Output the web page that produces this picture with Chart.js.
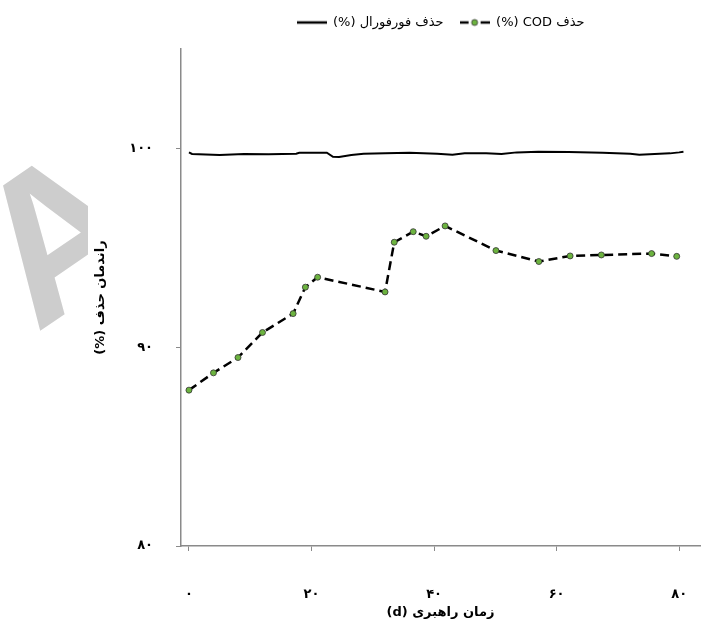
<!DOCTYPE html>
<html>
<head>
<meta charset="utf-8">
<script src="https://cdn.jsdelivr.net/npm/chart.js@4"></script>
<style>
  html, body { margin: 0; padding: 0; background: #fff; }
  #wrap { width: 707px; height: 624px; }
</style>
</head>
<body>
<div id="wrap"><canvas id="chart" width="707" height="624"></canvas></div>
<script>
// Data
const furfuralDays = [0, 0.5, 5, 9, 13, 17.5, 18, 22.5, 23.5, 24.5, 26.5, 28.5, 32, 36, 40.5, 43, 45, 48.5, 51, 53.5, 57, 62, 67.5, 72, 73.5, 78.5, 80, 80.7];
const furfuralRemoval = [99.8, 99.72, 99.67, 99.72, 99.7, 99.73, 99.78, 99.78, 99.58, 99.57, 99.67, 99.73, 99.75, 99.78, 99.73, 99.68, 99.75, 99.75, 99.72, 99.8, 99.83, 99.82, 99.78, 99.73, 99.68, 99.75, 99.8, 99.83];

const codDays = [0, 4, 8, 12, 17, 19, 21, 32, 33.5, 36.6, 38.7, 41.8, 50.1, 57.1, 62.2, 67.3, 75.5, 79.6];
const codRemoval = [87.84, 88.71, 89.48, 90.74, 91.69, 93.02, 93.52, 92.78, 95.28, 95.81, 95.58, 96.1, 94.86, 94.31, 94.59, 94.64, 94.71, 94.57];

const seriesLabels = ["حذف فورفورال (%)", "حذف COD (%)"];
const xTickValues = [0, 20, 40, 60, 80];
const xTickLabels = ["۰", "۲۰", "۴۰", "۶۰", "۸۰"];
const yTickValues = [80, 90, 100];
const yTickLabels = ["۸۰", "۹۰", "۱۰۰"];
const xTitle = "زمان راهبری (d)";
const yTitle = "راندمان حذف (%)";

const axisGray = "#8a8a8a";
const codGreen = "#6cb33f";
// wrap in right-to-left embedding so "(%)" sits on the left like the original
const rtlText = (s) => "\u202B" + s + "\u202C";

// legend icons
function legendIcon(dashed) {
  const c = document.createElement("canvas");
  c.width = 30;
  c.height = 10;
  const g = c.getContext("2d");
  g.strokeStyle = "#000";
  g.lineWidth = 2.5;
  g.beginPath();
  if (dashed) {
    g.moveTo(0, 5); g.lineTo(9, 5);
    g.moveTo(21, 5); g.lineTo(30, 5);
  } else {
    g.moveTo(0, 5); g.lineTo(30, 5);
  }
  g.stroke();
  if (dashed) {
    g.beginPath();
    g.arc(15, 5, 3, 0, Math.PI * 2);
    g.fillStyle = codGreen;
    g.fill();
    g.lineWidth = 0.8;
    g.strokeStyle = "#333";
    g.stroke();
  }
  return c;
}
const iconSolid = legendIcon(false);
const iconDashed = legendIcon(true);

// faint watermark behind the chart
const watermark = {
  id: "watermark",
  beforeDraw(chart) {
    const ctx = chart.ctx;
    ctx.save();
    ctx.beginPath();
    ctx.rect(0, 0, 88, 624);
    ctx.clip();
    ctx.translate(97, 292);
    ctx.rotate(-0.6);
    ctx.fillStyle = "#cdcdcd";
    ctx.font = "bold 205px 'Liberation Sans'";
    ctx.textAlign = "center";
    ctx.textBaseline = "alphabetic";
    ctx.fillText("A", 0, 0);
    ctx.restore();
  }
};

// a bit more room under the legend
const legendGap = {
  id: "legendGap",
  afterInit(chart) {
    const lg = chart.legend;
    const fit = lg.fit;
    lg.fit = function () {
      fit.call(this);
      this.height += 10;
    };
  }
};

const tickFont = { family: "'DejaVu Sans'", size: 13, weight: "bold" };

const ctx = document.getElementById("chart").getContext("2d");
new Chart(ctx, {
  type: "line",
  data: {
    datasets: [
      {
        label: seriesLabels[0],
        data: furfuralDays.map((d, i) => ({ x: d, y: furfuralRemoval[i] })),
        borderColor: "#000",
        backgroundColor: "#000",
        borderWidth: 2,
        pointRadius: 0,
        tension: 0,
      },
      {
        label: seriesLabels[1],
        data: codDays.map((d, i) => ({ x: d, y: codRemoval[i] })),
        borderColor: "#000",
        borderWidth: 2.5,
        borderDash: [9, 5],
        pointRadius: 3,
        pointBackgroundColor: codGreen,
        pointBorderColor: "#333",
        pointBorderWidth: 0.8,
        tension: 0,
      },
    ],
  },
  options: {
    responsive: false,
    animation: false,
    layout: { padding: { top: 0, right: 7, left: 0, bottom: 0 } },
    plugins: {
      legend: {
        position: "top",
        fullSize: false,
        labels: {
          usePointStyle: true,
          pointStyleWidth: 30,
          padding: 16,
          color: "#000",
          font: { family: "'DejaVu Sans'", size: 13 },
          generateLabels(chart) {
            const items = Chart.defaults.plugins.legend.labels.generateLabels(chart);
            items[0].pointStyle = iconSolid;
            items[1].pointStyle = iconDashed;
            items.forEach((it) => { it.text = rtlText(it.text); });
            return items;
          },
        },
      },
      tooltip: { enabled: false },
    },
    scales: {
      x: {
        type: "linear",
        min: -1.3,
        max: 83.4,
        afterBuildTicks(s) {
          s.ticks = xTickValues.map((v) => ({ value: v }));
        },
        afterFit(s) {
          s.height = 78;
          s.paddingLeft = 0;
          s.paddingRight = 0;
        },
        grid: { drawOnChartArea: false, drawTicks: true, tickLength: 5, color: axisGray },
        border: { color: axisGray, width: 1.5 },
        ticks: {
          padding: 36,
          maxRotation: 0,
          autoSkip: false,
          color: "#000",
          font: tickFont,
          callback: (v) => xTickLabels[xTickValues.indexOf(v)],
        },
        title: {
          display: true,
          text: rtlText(xTitle),
          color: "#000",
          padding: { top: 0, bottom: 4 },
          font: tickFont,
        },
      },
      y: {
        min: 80,
        max: 105,
        afterBuildTicks(s) {
          s.ticks = yTickValues.map((v) => ({ value: v }));
        },
        afterFit(s) {
          s.width = 181;
          s.paddingTop = 0;
          s.paddingBottom = 0;
        },
        grid: { drawOnChartArea: false, drawTicks: true, tickLength: 5, color: axisGray },
        border: { color: axisGray, width: 1.5 },
        ticks: {
          padding: 23,
          autoSkip: false,
          color: "#000",
          font: tickFont,
          callback: (v) => yTickLabels[yTickValues.indexOf(v)],
        },
        title: {
          display: true,
          text: rtlText(yTitle),
          color: "#000",
          padding: { top: 93, bottom: 0 },
          font: tickFont,
        },
      },
    },
  },
  plugins: [watermark, legendGap],
});
</script>
</body>
</html>
